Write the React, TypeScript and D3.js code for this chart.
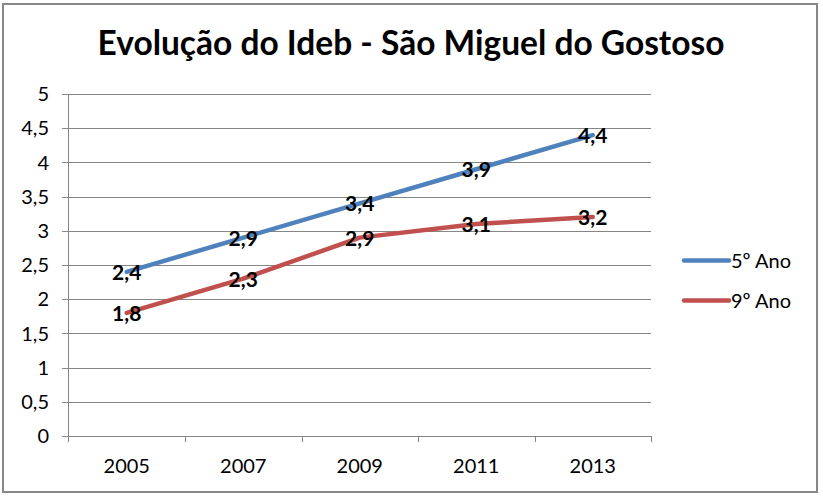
import React from "react";
import * as d3 from "d3";

const years = ["2005", "2007", "2009", "2011", "2013"];
const ano5 = [2.4, 2.9, 3.4, 3.9, 4.4];
const ano9 = [1.8, 2.3, 2.9, 3.1, 3.2];
const yTicks = [0, 0.5, 1, 1.5, 2, 2.5, 3, 3.5, 4, 4.5, 5];
const seriesNames = ["5º Ano", "9º Ano"];
const seriesColors = ["#4F81BD", "#C0504D"];
const title = "Evolução do Ideb - São Miguel do Gostoso";

const W = 823;
const H = 497;
const FONT = "Lato, 'Open Sans', sans-serif";

const fmt = (v: number) => String(v).replace(".", ",");

export default function App() {
  const left = 68.5;
  const right = 651;
  const top = 94;
  const bottom = 436;
  const x = d3.scaleBand<string>().domain(years).range([left, right]);
  const y = d3.scaleLinear().domain([0, 5]).range([bottom, top]);
  const line = d3
    .line<number>()
    .x((_, i) => (x(years[i]) as number) + x.bandwidth() / 2)
    .y((d) => y(d));
  const series = [ano5, ano9];

  return (
    <svg
      width={W}
      height={H}
      style={{ position: "absolute", left: 0, top: 0, background: "#fff" }}
      fontFamily={FONT}
    >
      <rect x={0} y={0} width={W} height={H} fill="#fff" />
      <rect x={3} y={4} width={814} height={488} fill="#fff" stroke="#878787" strokeWidth={2} />
      <text
        x={411}
        y={55}
        textAnchor="middle"
        fontSize={33.5}
        fontWeight="bold"
        fill="#000"
      >
        {title}
      </text>
      {/* gridlines */}
      {yTicks.map((t) => (
        <g key={t}>
          <line x1={62} x2={right} y1={Math.round(y(t)) + 0.5} y2={Math.round(y(t)) + 0.5} stroke="#868686" strokeWidth={1} />
          <text x={49} y={y(t)} dy="0.36em" textAnchor="end" fontSize={20} fill="#000">
            {fmt(t)}
          </text>
        </g>
      ))}
      {/* y axis */}
      <line x1={left} x2={left} y1={top} y2={bottom + 6} stroke="#868686" strokeWidth={1} />
      {/* x ticks */}
      {years.map((yr) => {
        const bx = (x(yr) as number) + x.bandwidth();
        return (
          <line key={"t" + yr} x1={Math.round(bx) + 0.5} x2={Math.round(bx) + 0.5} y1={bottom} y2={bottom + 6} stroke="#868686" strokeWidth={1} />
        );
      })}
      {years.map((yr) => (
        <text
          key={yr}
          x={(x(yr) as number) + x.bandwidth() / 2}
          y={473}
          textAnchor="middle"
          fontSize={20}
          fill="#000"
        >
          {yr}
        </text>
      ))}
      {/* lines */}
      {series.map((s, si) => (
        <path
          key={si}
          d={line(s) || ""}
          fill="none"
          stroke={seriesColors[si]}
          strokeWidth={4.5}
          strokeLinecap="round"
          strokeLinejoin="round"
        />
      ))}
      {/* labels */}
      {series.map((s, si) =>
        s.map((v, i) => (
          <text
            key={si + "-" + i}
            x={(x(years[i]) as number) + x.bandwidth() / 2}
            y={y(v)}
            dy="0.38em"
            textAnchor="middle"
            fontSize={21}
            fontWeight="bold"
            fill="#000"
          >
            {fmt(v)}
          </text>
        ))
      )}
      {/* legend */}
      {seriesNames.map((n, i) => {
        const ly = 260.5 + i * 40;
        return (
          <g key={n}>
            <line x1={684} x2={729} y1={ly} y2={ly} stroke={seriesColors[i]} strokeWidth={4.5} strokeLinecap="round" />
            <text x={731} y={ly} dy="0.36em" fontSize={20} fill="#000">
              {n}
            </text>
          </g>
        );
      })}
    </svg>
  );
}
